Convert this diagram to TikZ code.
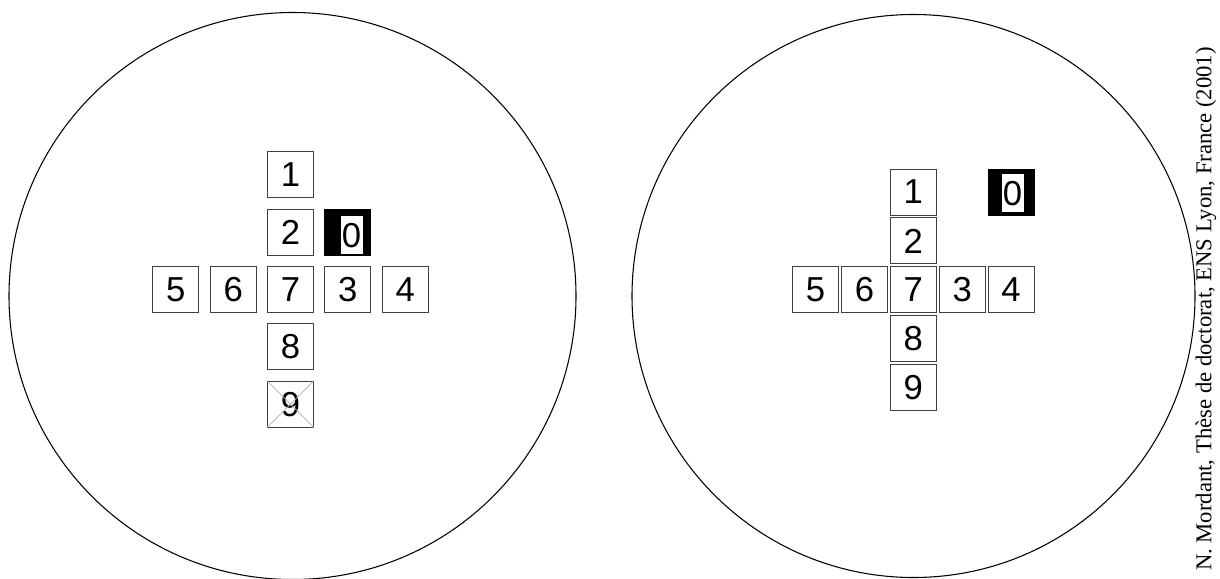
\documentclass[tikz,border=0pt]{standalone}
\usepackage{fontspec}
\newfontfamily\digitfont{Liberation Sans}
\newfontfamily\notefont{Liberation Serif}
\usetikzlibrary{positioning}

\begin{document}
\begin{tikzpicture}[
  x=0.75pt, y=-0.75pt,
  cell/.style={rectangle, draw=black!75, line width=0.8pt, minimum size=34.5pt, inner sep=0pt, font=\fontsize{26}{26}\selectfont\digitfont},
  blackcell/.style={cell, draw=black, fill=black},
  whitedigit/.style={rectangle, fill=white, inner sep=0pt, minimum width=16.5pt, minimum height=28.5pt, font=\fontsize{26}{26}\selectfont\digitfont},
  dish/.style={draw, line width=0.8pt}
]
\useasboundingbox (0,0) rectangle (1220,578);

% Dishes
\draw[dish] (292.5,296) circle[radius=283.5];
\draw[dish] (913.5,296) circle[radius=281.5];

% Left cross, spaced boxes
\begin{scope}[node distance=7.7pt]
\node[cell] (L7) at (290.5,289.5) {7};
\node[cell, above=of L7] (L2) {2};
\node[cell, above=of L2] (L1) {1};
\node[cell, right=of L7] (L3) {3};
\node[cell, right=of L3] (L4) {4};
\node[cell, left=of L7] (L6) {6};
\node[cell, left=of L6] (L5) {5};
\node[cell, below=of L7] (L8) {8};
\node[cell, below=of L8] (L9) {9};
\node[blackcell, above=of L3] (L0) {};
\end{scope}
\node[whitedigit, xshift=2.8pt, yshift=-2.4pt] (L0t) at (L0) {0};
\draw[black!30, line width=0.6pt] (L9.north west) -- (L9.south east)
  (L9.north east) -- (L9.south west);

% Right cross, packed boxes
\begin{scope}[node distance=1.35pt]
\node[cell] (R7) at (913.3,289.8) {7};
\node[cell, above=of R7] (R2) {2};
\node[cell, above=of R2] (R1) {1};
\node[cell, right=of R7] (R3) {3};
\node[cell, right=of R3] (R4) {4};
\node[cell, left=of R7] (R6) {6};
\node[cell, left=of R6] (R5) {5};
\node[cell, below=of R7] (R8) {8};
\node[cell, below=of R8] (R9) {9};
\end{scope}
\node[blackcell] (R0) at (R4 |- R1) {};
\node[whitedigit, xshift=1.1pt, yshift=-0.8pt] (R0t) at (R0) {0};

% Credit line
\node[rotate=90, inner sep=0pt, font=\fontsize{17}{17}\selectfont\notefont] (credit) at (1206,309)
  {N. Mordant, Thèse de doctorat, ENS Lyon, France (2001)};
\end{tikzpicture}
\end{document}
